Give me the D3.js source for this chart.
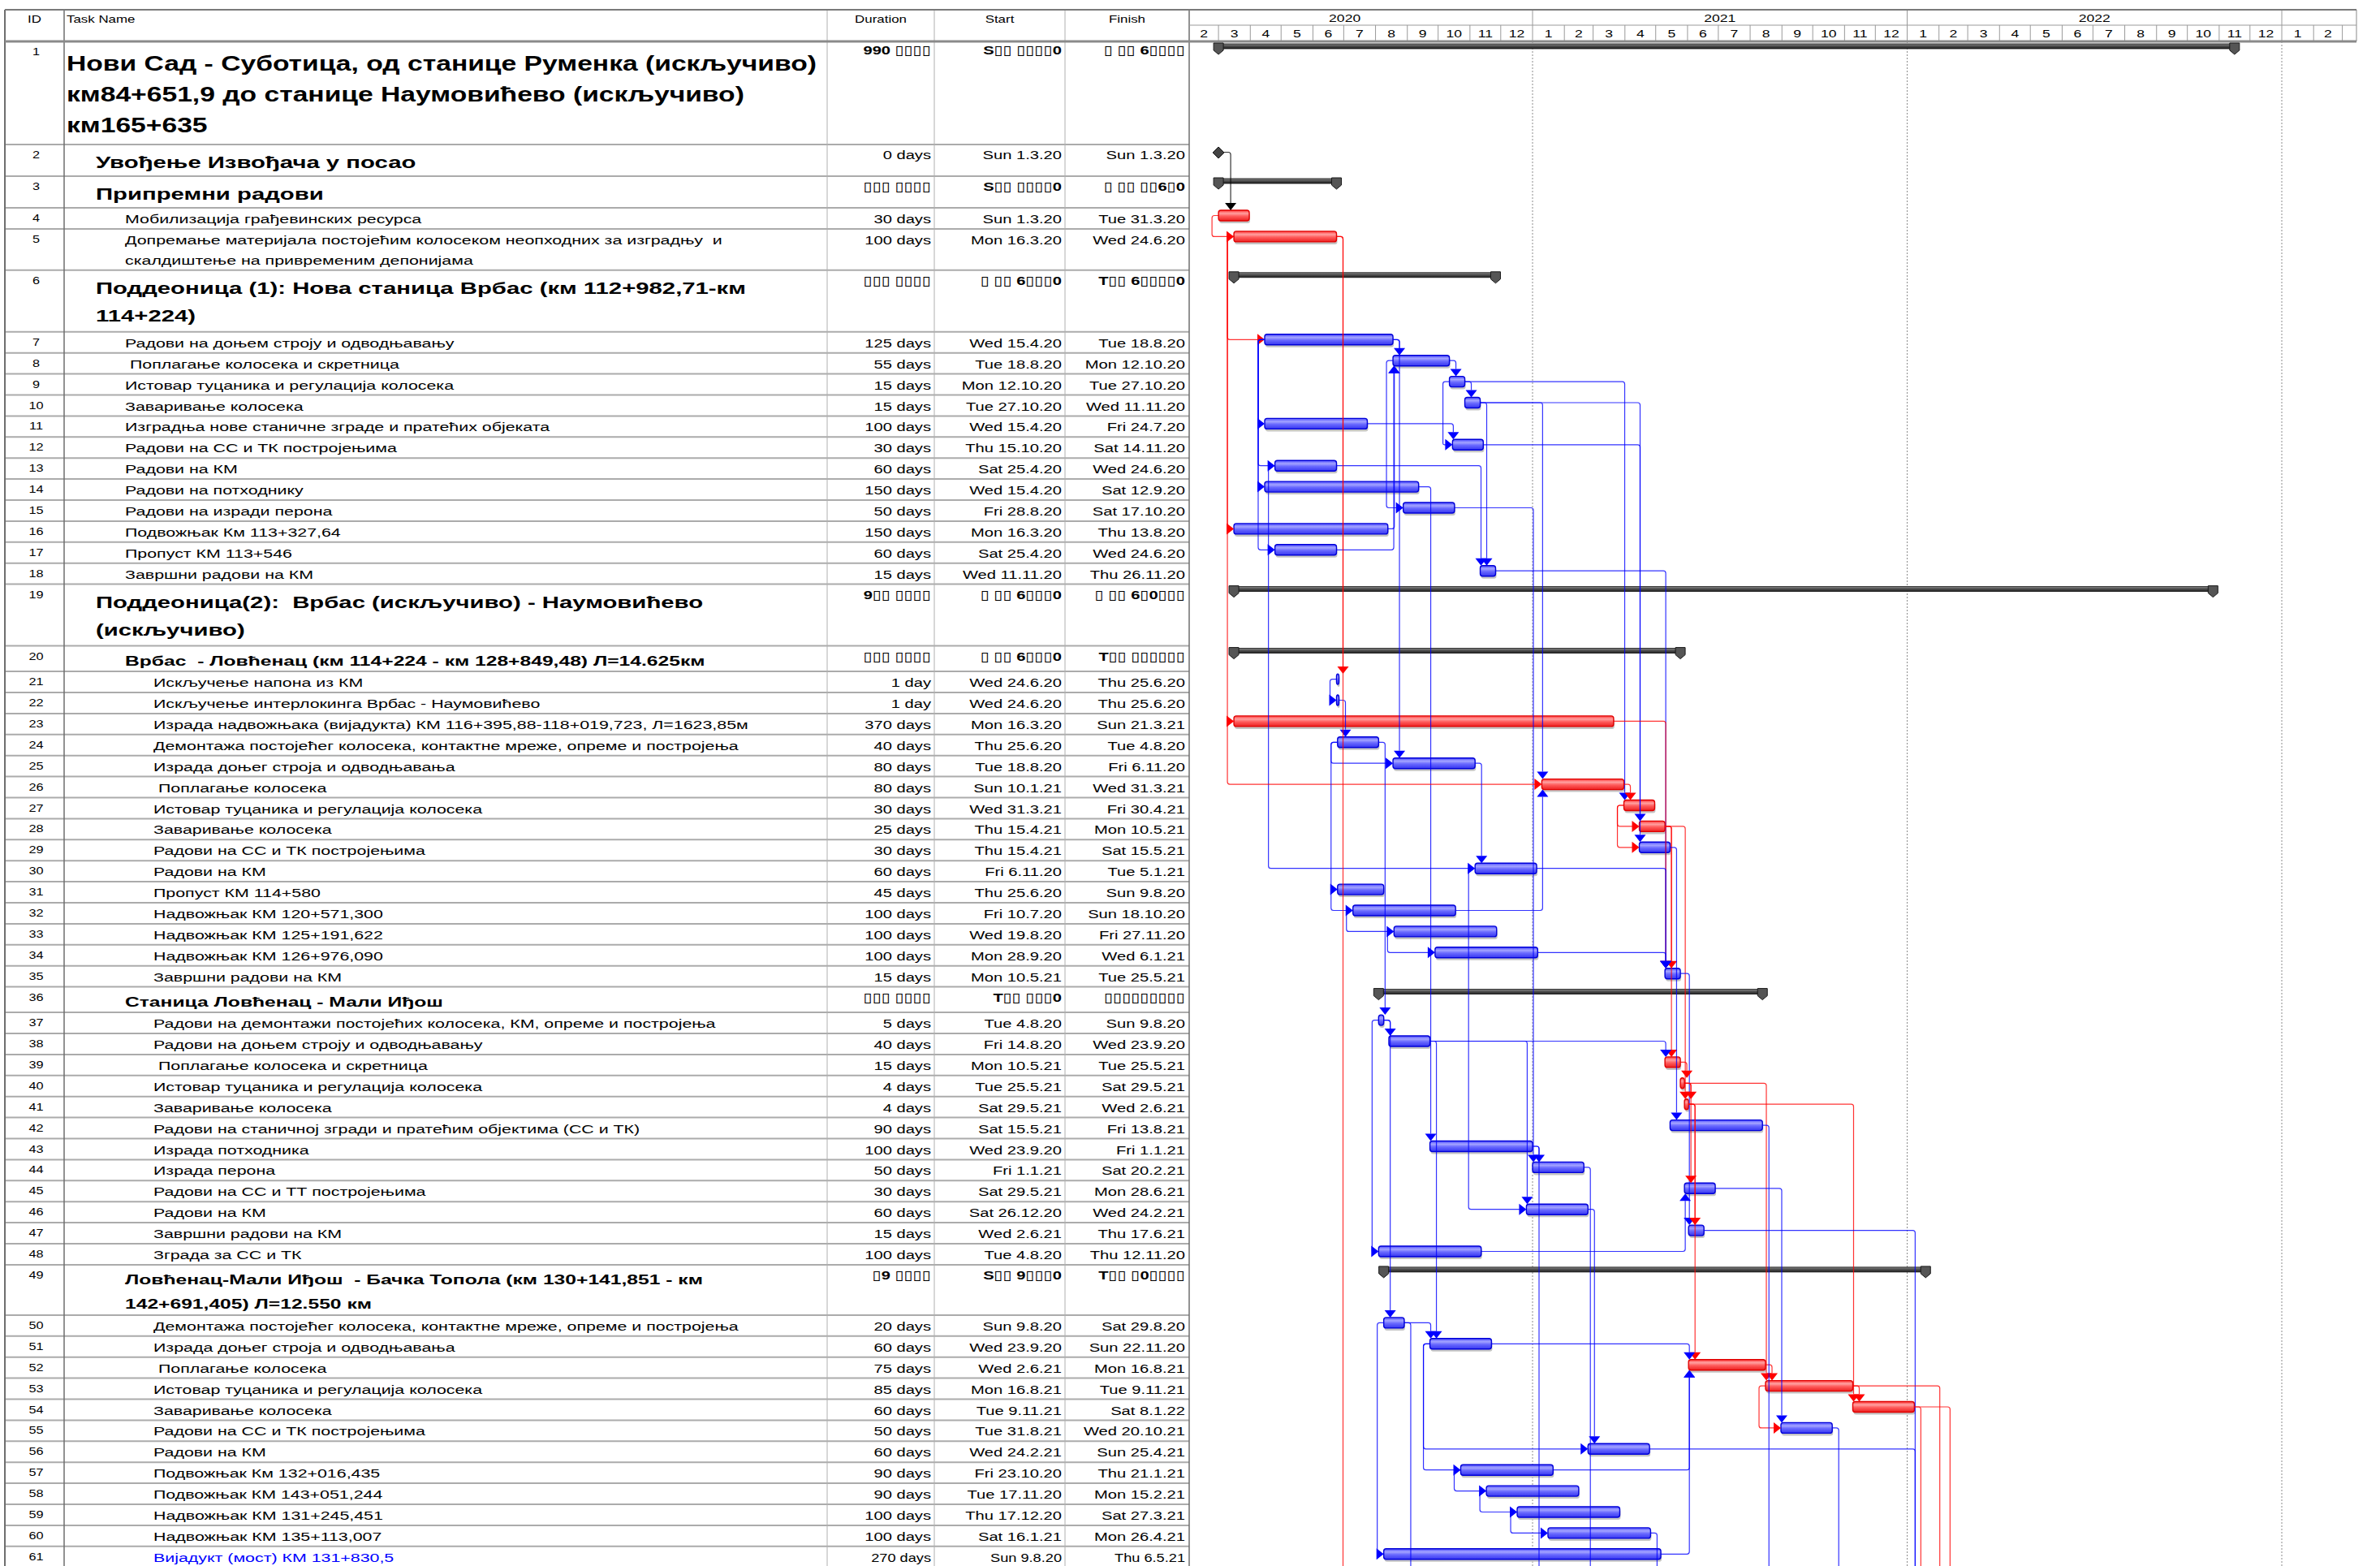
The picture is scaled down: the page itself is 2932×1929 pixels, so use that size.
<!DOCTYPE html>
<html><head><meta charset="utf-8">
<script src="https://cdn.jsdelivr.net/npm/d3@7"></script>
<style>body{margin:0;background:#fff}svg{display:block}</style>
</head><body>
<script>
// ---------------- DATA ----------------
const ids = d3.range(1, 62);
const names = [
"Нови Сад - Суботица, од станице Руменка (искључиво)\nкм84+651,9 до станице Наумовићево (искључиво)\nкм165+635",
"Увођење Извођача у посао",
"Припремни радови",
"Мобилизација грађевинских ресурса",
"Допремање материјала постојећим колосеком неопходних за изградњу  и\nскалдиштење на привременим депонијама",
"Поддеоница (1): Нова станица Врбас (км 112+982,71-км\n114+224)",
"Радови на доњем строју и одводњавању",
" Поплагање колосека и скретница",
"Истовар туцаника и регулација колосека",
"Заваривање колосека",
"Изградња нове станичне зграде и пратећих објеката",
"Радови на СС и ТК постројењима",
"Радови на КМ",
"Радови на потходнику",
"Радови на изради перона",
"Подвожњак Км 113+327,64",
"Пропуст КМ 113+546",
"Завршни радови на КМ",
"Поддеоница(2):  Врбас (искључиво) - Наумовићево\n(искључиво)",
"Врбас  - Ловћенац (км 114+224 - км 128+849,48) Л=14.625км",
"Искључење напона из КМ",
"Искључење интерлокинга Врбас - Наумовићево",
"Израда надвожњака (вијадукта) КМ 116+395,88-118+019,723, Л=1623,85м",
"Демонтажа постојећег колосека, контактне мреже, опреме и постројења",
"Израда доњег строја и одводњавања",
" Поплагање колосека",
"Истовар туцаника и регулација колосека",
"Заваривање колосека",
"Радови на СС и ТК постројењима",
"Радови на КМ",
"Пропуст КМ 114+580",
"Надвожњак КМ 120+571,300",
"Надвожњак КМ 125+191,622",
"Надвожњак КМ 126+976,090",
"Завршни радови на КМ",
"Станица Ловћенац - Мали Иђош",
"Радови на демонтажи постојећих колосека, КМ, опреме и постројења",
"Радови на доњем строју и одводњавању",
" Поплагање колосека и скретница",
"Истовар туцаника и регулација колосека",
"Заваривање колосека",
"Радови на станичној згради и пратећим објектима (СС и ТК)",
"Израда потходника",
"Израда перона",
"Радови на СС и ТТ постројењима",
"Радови на КМ",
"Завршни радови на КМ",
"Зграда за СС и ТК",
"Ловћенац-Мали Иђош  - Бачка Топола (км 130+141,851 - км\n142+691,405) Л=12.550 км",
"Демонтажа постојећег колосека, контактне мреже, опреме и постројења",
"Израда доњег строја и одводњавања",
" Поплагање колосека",
"Истовар туцаника и регулација колосека",
"Заваривање колосека",
"Радови на СС и ТК постројењима",
"Радови на КМ",
"Подвожњак Км 132+016,435",
"Подвожњак КМ 143+051,244",
"Надвожњак КМ 131+245,451",
"Надвожњак КМ 135+113,007",
"Вијадукт (мост) КМ 131+830,5"
];
// outline level
const levels = [0,1,1,2,2,1, 2,2,2,2,2,2,2,2,2,2,2,2, 1,2,
  3,3,3,3,3,3,3,3,3,3,3,3,3,3,3, 2, 3,3,3,3,3,3,3,3,3,3,3,3, 2, 3,3,3,3,3,3,3,3,3,3,3,3];
// S summary, M milestone, C critical task, T task
const kinds = ["S","M","S","C","C","S", "T","T","T","T","T","T","T","T","T","T","T","T", "S","S",
  "T","T","C","T","T","C","C","C","T","T","T","T","T","T","T", "S",
  "T","T","C","C","C","T","T","T","T","T","T","T", "S",
  "T","T","C","C","C","T","T","T","T","T","T","T"];
const durations = ["990 ▯▯▯▯","0 days","▯▯▯ ▯▯▯▯","30 days","100 days","▯▯▯ ▯▯▯▯","125 days","55 days","15 days","15 days","100 days","30 days","60 days","150 days","50 days","150 days","60 days","15 days","9▯▯ ▯▯▯▯","▯▯▯ ▯▯▯▯","1 day","1 day","370 days","40 days","80 days","80 days","30 days","25 days","30 days","60 days","45 days","100 days","100 days","100 days","15 days","▯▯▯ ▯▯▯▯","5 days","40 days","15 days","4 days","4 days","90 days","100 days","50 days","30 days","60 days","15 days","100 days","▯9 ▯▯▯▯","20 days","60 days","75 days","85 days","60 days","50 days","60 days","90 days","90 days","100 days","100 days","270 days"];
const startLabels = ["S▯▯ ▯▯▯▯0","Sun 1.3.20","S▯▯ ▯▯▯▯0","Sun 1.3.20","Mon 16.3.20","▯ ▯▯ 6▯▯▯0","Wed 15.4.20","Tue 18.8.20","Mon 12.10.20","Tue 27.10.20","Wed 15.4.20","Thu 15.10.20","Sat 25.4.20","Wed 15.4.20","Fri 28.8.20","Mon 16.3.20","Sat 25.4.20","Wed 11.11.20","▯ ▯▯ 6▯▯▯0","▯ ▯▯ 6▯▯▯0","Wed 24.6.20","Wed 24.6.20","Mon 16.3.20","Thu 25.6.20","Tue 18.8.20","Sun 10.1.21","Wed 31.3.21","Thu 15.4.21","Thu 15.4.21","Fri 6.11.20","Thu 25.6.20","Fri 10.7.20","Wed 19.8.20","Mon 28.9.20","Mon 10.5.21","T▯▯ ▯▯▯0","Tue 4.8.20","Fri 14.8.20","Mon 10.5.21","Tue 25.5.21","Sat 29.5.21","Sat 15.5.21","Wed 23.9.20","Fri 1.1.21","Sat 29.5.21","Sat 26.12.20","Wed 2.6.21","Tue 4.8.20","S▯▯ 9▯▯▯0","Sun 9.8.20","Wed 23.9.20","Wed 2.6.21","Mon 16.8.21","Tue 9.11.21","Tue 31.8.21","Wed 24.2.21","Fri 23.10.20","Tue 17.11.20","Thu 17.12.20","Sat 16.1.21","Sun 9.8.20"];
const finishLabels = ["▯ ▯▯ 6▯▯▯▯","Sun 1.3.20","▯ ▯▯ ▯▯6▯0","Tue 31.3.20","Wed 24.6.20","T▯▯ 6▯▯▯▯0","Tue 18.8.20","Mon 12.10.20","Tue 27.10.20","Wed 11.11.20","Fri 24.7.20","Sat 14.11.20","Wed 24.6.20","Sat 12.9.20","Sat 17.10.20","Thu 13.8.20","Wed 24.6.20","Thu 26.11.20","▯ ▯▯ 6▯0▯▯▯","T▯▯ ▯▯▯▯▯▯","Thu 25.6.20","Thu 25.6.20","Sun 21.3.21","Tue 4.8.20","Fri 6.11.20","Wed 31.3.21","Fri 30.4.21","Mon 10.5.21","Sat 15.5.21","Tue 5.1.21","Sun 9.8.20","Sun 18.10.20","Fri 27.11.20","Wed 6.1.21","Tue 25.5.21","▯▯▯▯▯▯▯▯▯","Sun 9.8.20","Wed 23.9.20","Tue 25.5.21","Sat 29.5.21","Wed 2.6.21","Fri 13.8.21","Fri 1.1.21","Sat 20.2.21","Mon 28.6.21","Wed 24.2.21","Thu 17.6.21","Thu 12.11.20","T▯▯ ▯0▯▯▯▯","Sat 29.8.20","Sun 22.11.20","Mon 16.8.21","Tue 9.11.21","Sat 8.1.22","Wed 20.10.21","Sun 25.4.21","Thu 21.1.21","Mon 15.2.21","Sat 27.3.21","Mon 26.4.21","Thu 6.5.21"];
// summary spans (their date cells are unreadable in the picture)
const summaryIds = [1, 3, 6, 19, 20, 36, 49];
const summaryStarts = ["1.3.20", "1.3.20", "16.3.20", "16.3.20", "16.3.20", "4.8.20", "9.8.20"];
const summaryFinishes = ["16.11.22", "24.6.20", "26.11.20", "26.10.22", "25.5.21", "13.8.21", "19.1.22"];
// dependencies: [predecessor, successor, type F=finish-start, S=start-start]
const links = [[2,4,"F"],[4,5,"S"],[5,7,"S"],[5,16,"S"],[5,23,"S"],[5,21,"F"],
 [7,8,"F"],[7,11,"S"],[7,13,"S"],[7,14,"S"],[7,17,"S"],[7,25,"F"],
 [8,9,"F"],[8,15,"S"],[9,10,"F"],[9,12,"S"],[9,27,"F"],
 [10,18,"F"],[10,26,"F"],[10,28,"F"],[11,12,"F"],[12,29,"F"],
 [13,18,"F"],[13,30,"S"],[14,43,"F"],[15,44,"F"],[16,8,"F"],[17,8,"F"],[18,35,"F"],
 [21,22,"S"],[22,24,"F"],[23,26,"S"],[23,35,"F"],[24,25,"S"],[24,31,"S"],[24,37,"F"],
 [25,30,"F"],[26,27,"F"],[27,28,"S"],[27,29,"S"],[28,35,"F"],[28,39,"F"],[28,41,"F"],[29,42,"F"],
 [30,35,"F"],[30,46,"S"],[31,32,"S"],[32,33,"S"],[33,34,"S"],[32,26,"F"],[34,35,"F"],[35,47,"F"],
 [37,38,"F"],[37,48,"S"],[37,50,"F"],[38,39,"F"],[38,46,"F"],[38,51,"F"],[39,40,"F"],[40,41,"F"],[40,45,"F"],[40,53,"F"],
 [41,47,"F"],[41,52,"F"],[41,54,"F"],[43,44,"F"],[48,45,"F"],[45,55,"F"],[46,56,"F"],
 [50,51,"F"],[50,61,"S"],[51,52,"F"],[51,56,"S"],[51,57,"S"],[52,53,"F"],[53,54,"F"],[53,55,"S"],
 [57,52,"F"],[61,52,"F"],[57,58,"S"],[58,59,"S"],[59,60,"S"]];
// links to tasks below the visible rows: [predecessor, successor start]
const offLinks = [[5,"24.6.20"],[50,"29.8.20"],[43,"1.1.21"],[44,"20.2.21"],[60,"26.4.21"],[42,"16.8.21"],
 [55,"20.10.21"],[56,"8.1.22"],[47,"8.1.22"],[54,"8.1.22"],[53,"1.2.22"],[54,"11.2.22"]];
const headers = ["ID", "Task Name", "Duration", "Start", "Finish"];
const years = [2020, 2021, 2022, 2023];

// ---------------- LAYOUT ----------------
const W = 2932, H = 1929;
const C = {left: 6, id: 79, dur: 1019, start: 1151, fin: 1312, gantt: 1465, right: 2903};
const HT = 12, HM = 31, HB = 51;
const SXN = 1.3;
const FONT = '"Liberation Sans", Arial, "DejaVu Sans", sans-serif';

const parseD = s => { const p = s.replace(/^[A-Za-z]+ /, "").split(".").map(Number); return new Date(2000 + p[2], p[1] - 1, p[0]); };
const x = d3.scaleTime().domain([new Date(2021, 0, 1), new Date(2022, 0, 1)]).range([1888, 2349.5]);

const styleOf = i => {
  const lv = levels[i], k = kinds[i];
  if (lv === 0) return {fs: 26.5, fw: 700, sx: 1.27, h1: 51, rl: 38, tl: 38, base: 36, tx: 82, vb: 16};
  if (lv === 1) return {fs: 20.5, fw: 700, sx: 1.43, h1: 39, rl: 37, tl: 34, base: 29, tx: 118, vb: 18};
  if (k === "S") return {fs: 17, fw: 700, sx: 1.45, h1: 31.5, rl: 30.5, tl: 30, base: 24, tx: 154, vb: 18};
  return {fs: 15.5, fw: 400, sx: 1.38, h1: 25.9, rl: 25, tl: 25, base: 19, tx: lv === 2 ? 154 : 189, vb: 19};
};

const rows = [];
let yy = HB;
ids.forEach((id, i) => {
  const st = styleOf(i);
  const lines = names[i].split("\n");
  const h = st.h1 + (lines.length - 1) * st.rl;
  let s, f;
  const si = summaryIds.indexOf(id);
  if (si >= 0) { s = parseD(summaryStarts[si]); f = parseD(summaryFinishes[si]); }
  else { s = parseD(startLabels[i]); f = parseD(finishLabels[i]); }
  rows.push({id, i, top: yy, h, st, lines, kind: kinds[i], s, f});
  yy += h;
});
const byId = new Map(rows.map(r => [r.id, r]));

const svg = d3.select("body").append("svg").attr("width", W).attr("height", H).attr("font-family", FONT);
const defs = svg.append("defs");
function grad(id, stops) {
  const g = defs.append("linearGradient").attr("id", id).attr("x1", 0).attr("y1", 0).attr("x2", 0).attr("y2", 1);
  stops.forEach(([o, c]) => g.append("stop").attr("offset", o).attr("stop-color", c));
}
grad("gBlue", [[0, "#4e4eff"], [0.3, "#a4a4ff"], [0.55, "#6a6aff"], [1, "#3636f0"]]);
grad("gRed", [[0, "#ff3c3c"], [0.3, "#ffa0a0"], [0.55, "#ff5e5e"], [1, "#ec2020"]]);
grad("gSum", [[0, "#8a8a8a"], [0.4, "#555"], [1, "#1e1e1e"]]);
defs.append("clipPath").attr("id", "gclip").append("rect").attr("x", C.gantt + 1).attr("y", HB).attr("width", C.right - C.gantt - 1).attr("height", H - HB);
defs.append("clipPath").attr("id", "hclip").append("rect").attr("x", C.gantt + 1).attr("y", HT).attr("width", C.right - C.gantt - 1).attr("height", HB - HT);

function txt(g, px, py, s, o) {
  return g.append("text").attr("transform", `translate(${px},${py}) scale(${o.sx || 1.38},1)`)
    .attr("text-anchor", o.anchor || "start").attr("font-size", o.fs).attr("font-weight", o.fw || 400)
    .attr("fill", o.fill || "#000").text(s);
}

// ---------------- TABLE ----------------
const tbl = svg.append("g");
rows.forEach(r => {
  tbl.append("line").attr("x1", C.left).attr("x2", C.gantt).attr("y1", r.top + r.h).attr("y2", r.top + r.h)
    .attr("stroke", "#ababab").attr("stroke-width", 2);
});
[C.dur, C.start, C.fin].forEach(cx => tbl.append("line").attr("x1", cx).attr("x2", cx).attr("y1", HT).attr("y2", H).attr("stroke", "#b0b0b0").attr("stroke-width", 1));
[C.left, C.id, C.gantt].forEach(cx => tbl.append("line").attr("x1", cx).attr("x2", cx).attr("y1", HT).attr("y2", H).attr("stroke", "#6e6e6e").attr("stroke-width", cx === C.left ? 2 : 1.5));

// header
txt(tbl, (C.left + C.id) / 2, 28, headers[0], {fs: 13, anchor: "middle", sx: SXN});
txt(tbl, C.id + 3, 28, headers[1], {fs: 13, sx: SXN});
txt(tbl, (C.dur + C.start) / 2, 28, headers[2], {fs: 13, anchor: "middle", sx: SXN});
txt(tbl, (C.start + C.fin) / 2, 28, headers[3], {fs: 13, anchor: "middle", sx: SXN});
txt(tbl, (C.fin + C.gantt) / 2, 28, headers[4], {fs: 13, anchor: "middle", sx: SXN});

rows.forEach(r => {
  const st = r.st;
  const col = r.id === 61 ? "#0000ff" : "#000";
  txt(tbl, (C.left + C.id) / 2 + 2, r.top + 17, String(r.id), {fs: 12.5, anchor: "middle", sx: SXN});
  r.lines.forEach((ln, k) => txt(tbl, st.tx, r.top + st.base + k * st.tl, ln, {fs: st.fs, fw: st.fw, fill: col, sx: st.sx}).attr("xml:space", "preserve"));
  const vfw = r.kind === "S" ? 700 : 400;
  const vfs = r.id === 61 ? 14 : 15.5;
  txt(tbl, C.start - 4, r.top + st.vb, durations[r.i], {fs: vfs, fw: vfw, anchor: "end", sx: SXN});
  txt(tbl, C.fin - 4, r.top + st.vb, startLabels[r.i], {fs: vfs, fw: vfw, anchor: "end", sx: SXN});
  txt(tbl, C.gantt - 5, r.top + st.vb, finishLabels[r.i], {fs: vfs, fw: vfw, anchor: "end", sx: SXN});
});

// ---------------- GANTT HEADER ----------------
const gh = svg.append("g");
const hc = gh.append("g").attr("clip-path", "url(#hclip)");
years.forEach(y => {
  const x0 = x(new Date(y, 0, 1)), x1 = x(new Date(y + 1, 0, 1));
  if (x0 > C.gantt && x0 < C.right) hc.append("line").attr("x1", x0).attr("x2", x0).attr("y1", HT).attr("y2", HM).attr("stroke", "#9a9a9a");
  const cx = (x0 + x1) / 2;
  if (cx > C.gantt && cx < C.right) txt(hc, cx, 27, String(y), {fs: 13.5, anchor: "middle", sx: SXN});
});
const months = d3.timeMonth.range(new Date(2020, 1, 1), new Date(2023, 3, 1));
months.forEach(m => {
  const x0 = x(m), x1 = x(d3.timeMonth.offset(m, 1));
  if (x1 > C.gantt && x1 < C.right) hc.append("line").attr("x1", x1).attr("x2", x1).attr("y1", HM).attr("y2", HB).attr("stroke", "#9a9a9a");
  const v0 = Math.max(x0, C.gantt), v1 = Math.min(x1, C.right);
  if (v1 - v0 > 25) txt(hc, (v0 + v1) / 2, 46, String(m.getMonth() + 1), {fs: 13.5, anchor: "middle", sx: SXN});
});
gh.append("line").attr("x1", C.right).attr("x2", C.right).attr("y1", HT).attr("y2", HB).attr("stroke", "#8a8a8a");
gh.append("line").attr("x1", C.gantt).attr("x2", C.right).attr("y1", HM).attr("y2", HM).attr("stroke", "#9a9a9a");
svg.append("line").attr("x1", C.left).attr("x2", C.right).attr("y1", HT).attr("y2", HT).attr("stroke", "#7a7a7a").attr("stroke-width", 2);
svg.append("line").attr("x1", C.left).attr("x2", C.right).attr("y1", HB).attr("y2", HB).attr("stroke", "#8a8a8a").attr("stroke-width", 3);

// ---------------- GANTT BODY ----------------
const gb = svg.append("g").attr("clip-path", "url(#gclip)");
years.forEach(y => {
  const xv = x(new Date(y + 1, 0, 1));
  if (xv > C.gantt && xv < C.right) gb.append("line").attr("x1", xv).attr("x2", xv).attr("y1", HB).attr("y2", H)
    .attr("stroke", "#8c8c8c").attr("stroke-dasharray", "2,2");
});

const bars = gb.append("g");
rows.forEach(r => {
  const xs = x(r.s), xf = x(r.f), t = r.top;
  if (r.kind === "S") {
    bars.append("rect").attr("x", xs).attr("y", t + 3).attr("width", xf - xs).attr("height", 6).attr("fill", "url(#gSum)").attr("stroke", "#111").attr("stroke-width", 0.8);
    [xs, xf].forEach(cx => bars.append("path")
      .attr("d", `M${cx - 6},${t + 2}H${cx + 6}V${t + 11}L${cx},${t + 16}L${cx - 6},${t + 11}Z`)
      .attr("fill", "#555").attr("stroke", "#1a1a1a").attr("stroke-width", 1));
  } else if (r.kind === "M") {
    bars.append("path").attr("d", `M${xs},${t + 3}L${xs + 7},${t + 10}L${xs},${t + 17}L${xs - 7},${t + 10}Z`).attr("fill", "#444").attr("stroke", "#111");
  } else {
    const w = Math.max(xf - xs, 3);
    bars.append("rect").attr("x", xs + 1).attr("y", t + 6).attr("width", w).attr("height", 13).attr("rx", 3).attr("fill", "#c4c4c4");
    bars.append("rect").attr("x", xs).attr("y", t + 3).attr("width", w).attr("height", 13).attr("rx", 3)
      .attr("fill", r.kind === "C" ? "url(#gRed)" : "url(#gBlue)")
      .attr("stroke", r.kind === "C" ? "#e00000" : "#0000d8").attr("stroke-width", 1.4);
  }
});

function rounded(pts, rad = 3) {
  let d = `M${pts[0][0]},${pts[0][1]}`;
  for (let k = 1; k < pts.length - 1; k++) {
    const [x0, y0] = pts[k - 1], [x1, y1] = pts[k], [x2, y2] = pts[k + 1];
    const l1 = Math.hypot(x1 - x0, y1 - y0), l2 = Math.hypot(x2 - x1, y2 - y1);
    const rr = Math.min(rad, l1 / 2, l2 / 2);
    if (rr < 0.05) { d += `L${x1},${y1}`; continue; }
    d += `L${x1 - (x1 - x0) / l1 * rr},${y1 - (y1 - y0) / l1 * rr}Q${x1},${y1} ${x1 + (x2 - x1) / l2 * rr},${y1 + (y2 - y1) / l2 * rr}`;
  }
  const e = pts[pts.length - 1];
  return d + `L${e[0]},${e[1]}`;
}
const lg = gb.append("g").attr("fill", "none");
const colorOf = k => k === "C" ? "#ff0000" : k === "M" ? "#000000" : "#0000ff";
function ends(r) {
  if (r.kind === "M") return [x(r.s) - 7, x(r.s) + 7];
  return [x(r.s), Math.max(x(r.f), x(r.s) + 3)];
}
function arrow(col, tx, ty, dir) {
  let d;
  if (dir === "down") d = `M${tx},${ty}L${tx - 7},${ty - 9}H${tx + 7}Z`;
  else if (dir === "up") d = `M${tx},${ty}L${tx - 7},${ty + 9}H${tx + 7}Z`;
  else d = `M${tx},${ty}L${tx - 9},${ty - 7}V${ty + 7}Z`;
  lg.append("path").attr("d", d).attr("fill", col).attr("stroke", "none");
}
links.forEach(([a, b, type]) => {
  const A = byId.get(a), B = byId.get(b);
  const col = colorOf(A.kind);
  const [aS, aE] = ends(A), [bS] = ends(B);
  const yA = A.top + 9.5, yB = B.top + 9.5;
  if (type === "S") {
    const xv = Math.min(aS, bS) - 8;
    const pts = [[aS, yA], [xv, yA], [xv, yB], [bS - 8, yB]];
    lg.append("path").attr("d", rounded(pts)).attr("stroke", col).attr("stroke-opacity", 0.8).attr("stroke-width", 1.2);
    arrow(col, bS, yB, "right");
  } else {
    const xd = Math.max(aE + 8, bS + 1);
    const down = B.top > A.top;
    const yt = down ? B.top + 3 - 9 : B.top + 16 + 9;
    const pts = [[aE, yA], [xd, yA], [xd, yt]];
    lg.append("path").attr("d", rounded(pts)).attr("stroke", col).attr("stroke-opacity", 0.8).attr("stroke-width", 1.2);
    arrow(col, xd, down ? B.top + 3 : B.top + 16, down ? "down" : "up");
  }
});
offLinks.forEach(([a, ds]) => {
  const A = byId.get(a);
  const col = colorOf(A.kind);
  const [, aE] = ends(A);
  const yA = A.top + 9.5;
  const xd = Math.max(aE + 8, x(parseD(ds)) + 1);
  lg.append("path").attr("d", rounded([[aE, yA], [xd, yA], [xd, H + 10]])).attr("stroke", col).attr("stroke-opacity", 0.8).attr("stroke-width", 1.2);
});
</script>
</body></html>
